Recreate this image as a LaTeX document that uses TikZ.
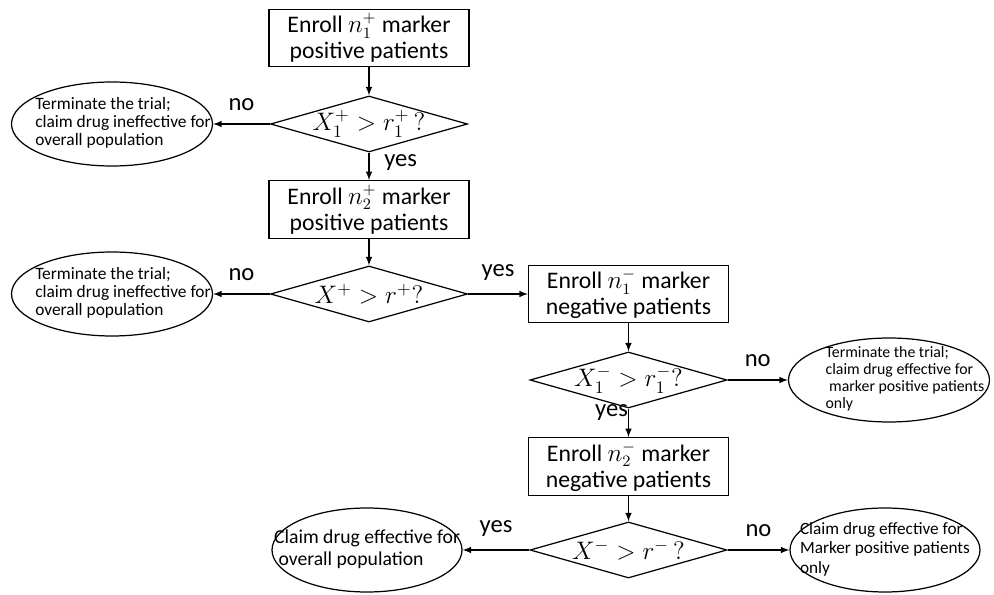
\documentclass[tikz,border=0pt]{standalone}
\usepackage{amsmath,amssymb}
\usepackage{fontspec}
\setmainfont{Carlito}
\usepackage{tikz}
\usetikzlibrary{shapes.geometric}
\usetikzlibrary{positioning}

\newcommand{\ovaltext}[2]{\begin{tabular}{@{\hspace{#1}}l@{}}#2\end{tabular}}

\begin{document}
\begin{tikzpicture}[line width=0.7pt,
              enroll/.style={draw, rectangle, minimum width=4cm, minimum height=1.15cm, inner sep=1pt, align=center, font=\fontsize{13.5}{14.8}\selectfont},
              check/.style={draw, diamond, aspect=4, minimum width=3.94cm, minimum height=1.12cm, inner xsep=-10pt, inner ysep=-3pt, font=\fontsize{14.5}{16}\selectfont},
              outcome/.style={draw, ellipse, minimum width=4.02cm, minimum height=1.68cm, inner xsep=-28pt, inner ysep=-8pt, font=\fontsize{9.9}{10.3}\selectfont},
              lbl/.style={font=\fontsize{14}{16}\selectfont}]
              \useasboundingbox (0,0) rectangle (19.88,-11.9);

              \node[enroll] (b1) at (7.38,-0.76) {Enroll $n_1^+$ marker\\positive patients};
              \node[check] (d1) at (7.38,-2.48) {$X_1^+ > r_1^+\,?$};
              \node[outcome] (e1) at (2.24,-2.48) {\ovaltext{0.44cm}{Terminate the trial;\\claim drug ineffective for\\overall population}};
              \node[enroll] (b2) at (7.38,-4.19) {Enroll $n_2^+$ marker\\positive patients};
              \node[check] (d2) at (7.38,-5.88) {$X^+ > r^+?$};
              \node[outcome] (e2) at (2.24,-5.88) {\ovaltext{0.44cm}{Terminate the trial;\\claim drug ineffective for\\overall population}};
              \node[enroll] (b3) at (12.57,-5.88) {Enroll $n_1^-$ marker\\negative patients};
              \node[check] (d3) at (12.57,-7.6) {$X_1^- > r_1^-?$};
              \node[outcome, font=\fontsize{9}{9.7}\selectfont] (e3) at (17.78,-7.6) {\ovaltext{0.64cm}{Terminate the trial;\\claim drug effective for\\\ marker positive patients\\only}};
              \node[enroll] (b4) at (12.57,-9.33) {Enroll $n_2^-$ marker\\negative patients};
              \node[check] (d4) at (12.57,-11.0) {$X^- > r^-\,?$};
              \node[outcome, minimum width=3.8cm, font=\fontsize{11.2}{13}\selectfont] (e4) at (7.34,-11.0) {\ovaltext{0pt}{Claim drug effective for\\\ overall population}};
              \node[outcome, minimum width=3.8cm, font=\fontsize{9.8}{11}\selectfont] (e5) at (17.7,-11.0) {\ovaltext{0pt}{Claim drug effective for\\Marker positive patients\\only}};

              \draw[-latex] (b1) -- (d1);
              \draw[-latex] (d1) -- node[lbl, above=4pt]{no} (e1);
              \draw[-latex] (d1) -- node[lbl, right=5pt, pos=0.36]{yes} (b2);
              \draw[-latex] (b2) -- (d2);
              \draw[-latex] (d2) -- node[lbl, above=4pt]{no} (e2);
              \draw[-latex] (d2) -- node[lbl, above=4pt]{yes} (b3);
              \draw[-latex] (b3) -- (d3);
              \draw[-latex] (d3) -- node[lbl, above=4pt]{no} (e3);
              \draw[-latex] (d3) -- node[lbl, left, inner sep=0pt, pos=0.14]{yes} (b4);
              \draw[-latex] (b4) -- (d4);
              \draw[-latex] (d4) -- node[lbl, above=4pt]{yes} (e4);
              \draw[-latex] (d4) -- node[lbl, above=4pt]{no} (e5);
            \end{tikzpicture}
\end{document}
